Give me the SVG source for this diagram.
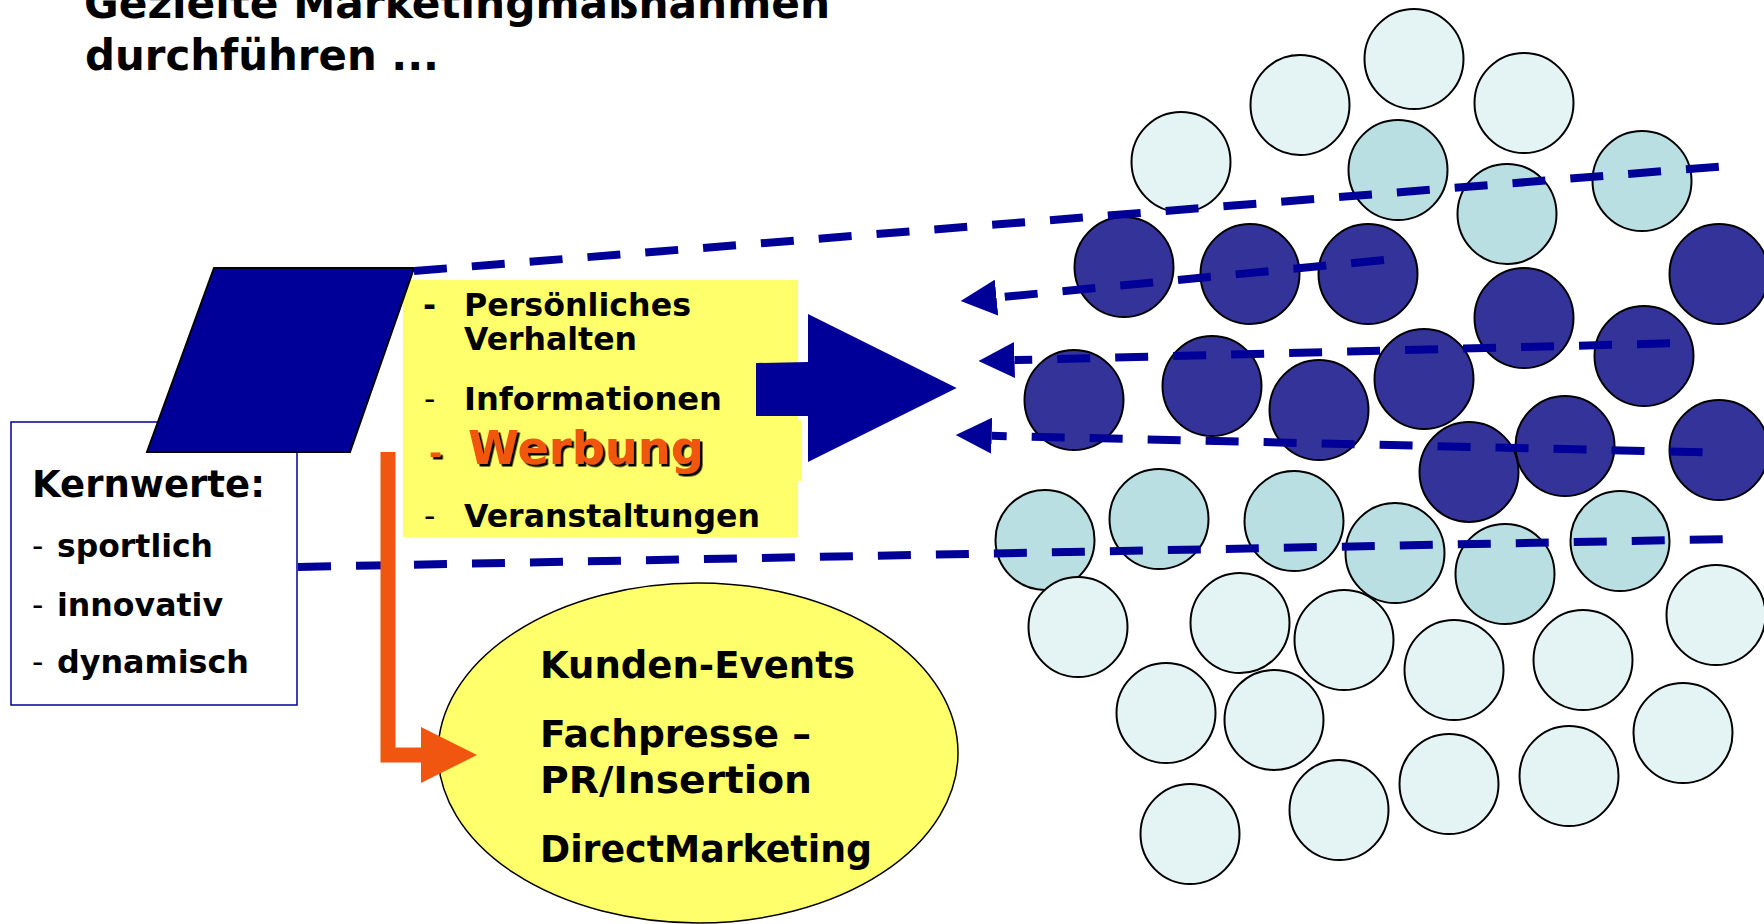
<svg xmlns="http://www.w3.org/2000/svg" width="1764" height="924" viewBox="0 0 1764 924">
<defs>
<style>
text{font-family:'DejaVu Sans',Verdana,sans-serif;font-weight:bold;fill:#000}
.thin{font-weight:normal}
.title{font-size:42.3px}
.item{font-size:31.5px}
.ell{font-size:36.5px}
.c{stroke:#000;stroke-width:2}
.light{fill:#E4F3F4}
.med{fill:#B9DFE3}
.dark{fill:#333399}
.dash{fill:none;stroke:#000099;stroke-width:8;stroke-dasharray:33 25}
</style>
<marker id="ah" markerUnits="userSpaceOnUse" markerWidth="36" markerHeight="36" viewBox="0 0 36 36" refX="0" refY="18" orient="auto">
<path d="M0,0 L36,18 L0,36 Z" fill="#000099"/>
</marker>
<filter id="sh" x="-5%" y="-10%" width="115%" height="130%">
<feDropShadow dx="2.5" dy="2.5" stdDeviation="0.3" flood-color="#000" flood-opacity="1"/>
</filter>
</defs>
<rect width="1764" height="924" fill="#fff"/>

<g id="title">
<text class="title" x="84" y="17.5" textLength="746" lengthAdjust="spacingAndGlyphs">Gezielte Marketingmaßnahmen</text>
<text class="title" x="85" y="70" textLength="354" lengthAdjust="spacingAndGlyphs">durchführen ...</text>
</g>

<g id="kernwerte">
<rect x="11" y="422" width="286" height="283" fill="#fff" stroke="#000099" stroke-width="1.5"/>
<text x="32" y="496.7" font-size="36.8" textLength="233" lengthAdjust="spacingAndGlyphs">Kernwerte:</text>
<text class="item thin" x="32" y="557">-</text>
<text class="item" x="57" y="557" textLength="156" lengthAdjust="spacingAndGlyphs">sportlich</text>
<text class="item thin" x="32" y="616">-</text>
<text class="item" x="57" y="616" textLength="166" lengthAdjust="spacingAndGlyphs">innovativ</text>
<text class="item thin" x="32" y="673">-</text>
<text class="item" x="57" y="673" textLength="192" lengthAdjust="spacingAndGlyphs">dynamisch</text>
</g>

<g id="massnahmen">
<rect x="403" y="280" width="395" height="257" fill="#FFFF6B"/>
<rect x="790" y="420" width="12" height="61" fill="#FFFF6B"/>
<text class="item" x="423" y="315.5">-</text>
<text class="item" x="464" y="315.5" textLength="227" lengthAdjust="spacingAndGlyphs">Persönliches</text>
<text class="item" x="464" y="350" textLength="173" lengthAdjust="spacingAndGlyphs">Verhalten</text>
<text class="item thin" x="424" y="409.5">-</text>
<text class="item" x="464" y="409.5" textLength="258" lengthAdjust="spacingAndGlyphs">Informationen</text>
<text x="429" y="464" font-size="31.5" style="fill:#F0560F" filter="url(#sh)">-</text>
<text x="468" y="464" font-size="46.5" style="fill:#F0560F" filter="url(#sh)" textLength="236" lengthAdjust="spacingAndGlyphs">Werbung</text>
<text class="item thin" x="424" y="526.7">-</text>
<text class="item" x="464" y="526.7" textLength="296" lengthAdjust="spacingAndGlyphs">Veranstaltungen</text>
</g>

<g id="marke">
<polygon points="214,268 414,268 350,452 147,452" fill="#000099" stroke="#000" stroke-width="2"/>
</g>

<g id="blockpfeil">
<polygon points="756,363 808,362 808,314 956.7,388 808,462 808,416 756,416" fill="#000099"/>
</g>

<g id="aktionen">
<ellipse cx="698" cy="753" rx="260" ry="170" fill="#FFFF6B" stroke="#000" stroke-width="1.5"/>
<text class="ell" x="540" y="678.3" textLength="315" lengthAdjust="spacingAndGlyphs">Kunden-Events</text>
<text class="ell" x="540" y="746.7" textLength="271" lengthAdjust="spacingAndGlyphs">Fachpresse –</text>
<text class="ell" x="540" y="793" textLength="272" lengthAdjust="spacingAndGlyphs">PR/Insertion</text>
<text class="ell" x="540" y="861.7" textLength="332" lengthAdjust="spacingAndGlyphs">DirectMarketing</text>
</g>

<g id="zielgruppe">
<g class="c light">
<ellipse cx="1181" cy="162" rx="49.5" ry="50"/>
<ellipse cx="1300" cy="105" rx="49.5" ry="50"/>
<ellipse cx="1414" cy="59" rx="49.5" ry="50"/>
<ellipse cx="1524" cy="103" rx="49.5" ry="50"/>
</g>
<g class="c med">
<ellipse cx="1398" cy="170" rx="49.5" ry="50"/>
<ellipse cx="1507" cy="214" rx="49.5" ry="50"/>
<ellipse cx="1642" cy="181" rx="49.5" ry="50"/>
</g>
<g class="c dark">
<ellipse cx="1124" cy="267" rx="49.5" ry="50"/>
<ellipse cx="1250" cy="274" rx="49.5" ry="50"/>
<ellipse cx="1368" cy="274" rx="49.5" ry="50"/>
<ellipse cx="1719" cy="274" rx="49.5" ry="50"/>
<ellipse cx="1524" cy="318" rx="49.5" ry="50"/>
<ellipse cx="1644" cy="356" rx="49.5" ry="50"/>
<ellipse cx="1074" cy="400" rx="49.5" ry="50"/>
<ellipse cx="1212" cy="386" rx="49.5" ry="50"/>
<ellipse cx="1319" cy="410" rx="49.5" ry="50"/>
<ellipse cx="1424" cy="379" rx="49.5" ry="50"/>
<ellipse cx="1469" cy="472" rx="49.5" ry="50"/>
<ellipse cx="1565" cy="446" rx="49.5" ry="50"/>
<ellipse cx="1719" cy="450" rx="49.5" ry="50"/>
</g>
<g class="c med">
<ellipse cx="1045" cy="540" rx="49.5" ry="50"/>
<ellipse cx="1159" cy="519" rx="49.5" ry="50"/>
<ellipse cx="1294" cy="521" rx="49.5" ry="50"/>
<ellipse cx="1395" cy="553" rx="49.5" ry="50"/>
<ellipse cx="1505" cy="574" rx="49.5" ry="50"/>
<ellipse cx="1620" cy="541" rx="49.5" ry="50"/>
</g>
<g class="c light">
<ellipse cx="1078" cy="627" rx="49.5" ry="50"/>
<ellipse cx="1240" cy="623" rx="49.5" ry="50"/>
<ellipse cx="1344" cy="640" rx="49.5" ry="50"/>
<ellipse cx="1454" cy="670" rx="49.5" ry="50"/>
<ellipse cx="1583" cy="660" rx="49.5" ry="50"/>
<ellipse cx="1716" cy="615" rx="49.5" ry="50"/>
<ellipse cx="1166" cy="713" rx="49.5" ry="50"/>
<ellipse cx="1274" cy="720" rx="49.5" ry="50"/>
<ellipse cx="1683" cy="733" rx="49.5" ry="50"/>
<ellipse cx="1190" cy="834" rx="49.5" ry="50"/>
<ellipse cx="1339" cy="810" rx="49.5" ry="50"/>
<ellipse cx="1449" cy="784" rx="49.5" ry="50"/>
<ellipse cx="1569" cy="776" rx="49.5" ry="50"/>
</g>
</g>

<g id="connectors">
<path class="dash" d="M414,271 L1719,166.7"/>
<path class="dash" d="M298,567 L1733,539"/>
<path class="dash" d="M1384,260 L996.5,297.6" marker-end="url(#ah)"/>
<path class="dash" d="M1670,343.3 L1014.5,360.1" marker-end="url(#ah)"/>
<path class="dash" d="M1702.5,452.3 L991.7,435.8" marker-end="url(#ah)"/>
<g id="orange-arrow">
<path d="M388,452 L388,755 L424,755" fill="none" stroke="#F0560F" stroke-width="15"/>
<polygon points="421,727 477,755 421,783" fill="#F0560F"/>
</g>
</g>
</svg>
